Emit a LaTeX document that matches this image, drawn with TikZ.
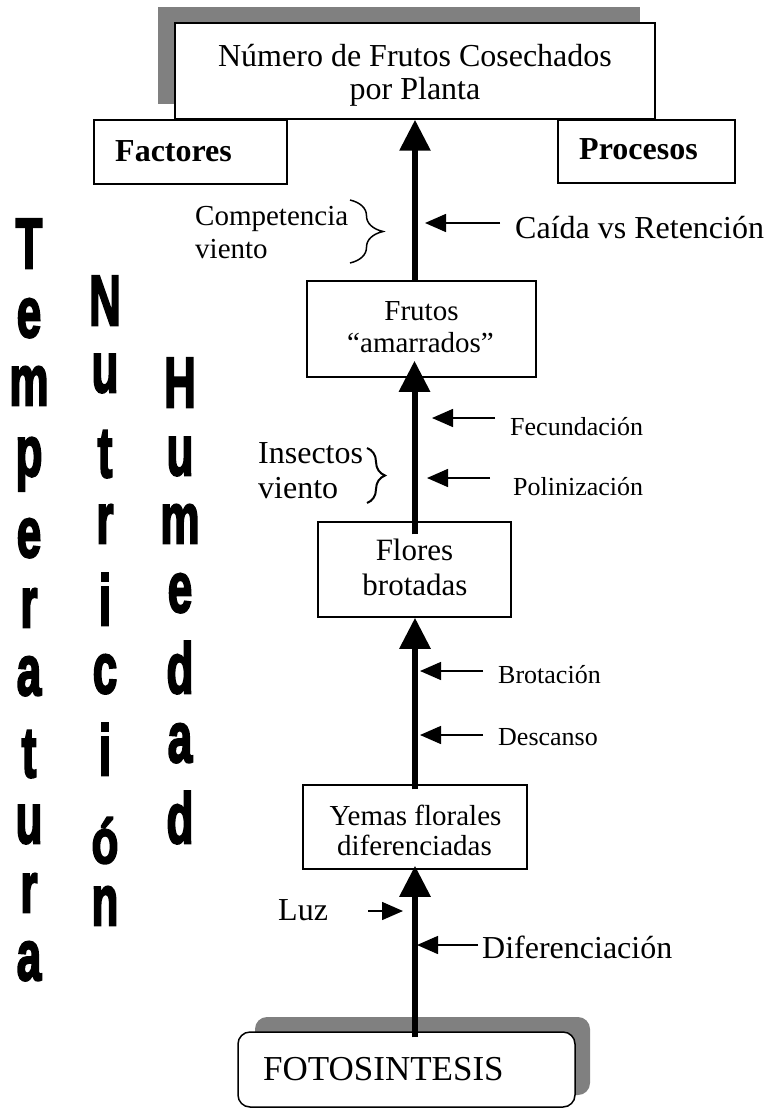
\documentclass[tikz,border=0pt]{standalone}
\usepackage{graphicx}
\usepackage{fontspec}
\setmainfont{Liberation Serif}
\newfontfamily\heavyfont[FakeBold=3.5]{Liberation Sans Bold}
\usetikzlibrary{arrows.meta,decorations.pathreplacing}
\definecolor{shadowgray}{RGB}{128,128,128}
\newcommand{\setfs}[1]{\fontsize{#1}{#1}\selectfont}
\newcommand{\vletter}[2][1.78]{\scalebox{1.1}[#1]{\heavyfont\fontsize{40}{40}\selectfont #2}}
\begin{document}
\begin{tikzpicture}[x=1pt,y=-1pt,
  box/.style={draw=black,line width=1.5pt,fill=white,rectangle,inner sep=0pt},
  lbl/.style={inner sep=0pt,anchor=base},
  lblw/.style={inner sep=0pt,anchor=base west},
  mainarrow/.style={line width=6pt,-{Triangle[length=31pt,width=30pt]}},
  sidearrow/.style={line width=1.5pt,-{Triangle[length=21pt,width=18pt]}},
  brc/.style={draw=black,line width=1.5pt,decorate},
  vl/.style={inner sep=0pt,anchor=base}]
\useasboundingbox (0,0) rectangle (767,1110);

% ---- top box with shadow
\fill[shadowgray] (158,7) rectangle (640,104);
\node[box,minimum width=480pt,minimum height=96pt] (numero) at (415,71) {};
\node[lbl,font=\setfs{32}] (numeroA) at (415,67) {Número de Frutos Cosechados};
\node[lbl,font=\setfs{32}] (numeroB) at (415,100) {por Planta};

\node[box,minimum width=193pt,minimum height=64pt] (factores) at (190.5,152) {};
\node[lblw,font=\setfs{32}\bfseries] (factoresT) at (115,162) {Factores};
\node[box,minimum width=177pt,minimum height=63pt] (procesos) at (646.5,151.5) {};
\node[lblw,font=\setfs{32}\bfseries] (procesosT) at (579,160) {Procesos};

% ---- middle boxes
\node[box,minimum width=229pt,minimum height=96pt] (frutos) at (421.5,329) {};
\node[lbl,font=\setfs{29}] (frutosA) at (421.5,320) {Frutos};
\node[lbl,font=\setfs{29}] (frutosB) at (420.5,352) {“amarrados”};

\node[box,minimum width=193pt,minimum height=95pt] (flores) at (414.5,569.5) {};
\node[lbl,font=\setfs{31}] (floresA) at (414.5,560) {Flores};
\node[lbl,font=\setfs{31}] (floresB) at (415,595) {brotadas};

\node[box,minimum width=224pt,minimum height=84pt] (yemas) at (415,827) {};
\node[lbl,font=\setfs{29}] (yemasA) at (415.5,825) {Yemas florales};
\node[lbl,font=\setfs{29}] (yemasB) at (414.5,855) {diferenciadas};

% ---- bottom rounded box with shadow
\fill[shadowgray,rounded corners=12pt] (255,1017) rectangle (590,1095);
\node[box,rounded corners=12pt,minimum width=337pt,minimum height=75pt] (fotos) at (406.5,1069.5) {};
\node[lblw,font=\setfs{35}] (fotosT) at (263,1080) {FOTOSINTESIS};

% ---- main arrows
\draw[mainarrow] (frutos.north -| numero.south) -- (numero.south);
\draw[mainarrow,shorten <=-13pt,shorten >=-17pt] (flores.north) -- (frutos.south -| flores.north);
\draw[mainarrow,shorten <=-5pt] (yemas.north) -- (flores.south -| yemas.north);
\draw[mainarrow,shorten <=-6pt,shorten >=-4pt] (fotos.north -| yemas.south) -- (yemas.south);

% ---- processes (right)
\node[lblw,font=\setfs{32}] (caida) at (515,238) {Caída vs Retención};
\coordinate (caidaE) at (425,223);
\draw[sidearrow,shorten <=15pt] (caida.west |- caidaE) -- (caidaE);

\node[lblw,font=\setfs{26}] (fecund) at (510,435) {Fecundación};
\coordinate (fecundE) at (432,418);
\draw[sidearrow,shorten <=15pt] (fecund.west |- fecundE) -- (fecundE);

\node[lblw,font=\setfs{26}] (polin) at (513,495) {Polinización};
\coordinate (polinE) at (427,478);
\draw[sidearrow,shorten <=23pt] (polin.west |- polinE) -- (polinE);

\node[lblw,font=\setfs{26}] (brot) at (498,683) {Brotación};
\coordinate (brotE) at (420,671);
\draw[sidearrow,shorten <=15pt] (brot.west |- brotE) -- (brotE);

\node[lblw,font=\setfs{26}] (desc) at (498,745) {Descanso};
\coordinate (descE) at (420,735);
\draw[sidearrow,shorten <=15pt] (desc.west |- descE) -- (descE);

\node[lblw,font=\setfs{32}] (difer) at (482,958) {Diferenciación};
\coordinate (diferE) at (417,945);
\draw[sidearrow,shorten <=4pt] (difer.west |- diferE) -- (diferE);

% ---- factors (left)
\node[lblw,font=\setfs{32}] (luz) at (278,920) {Luz};
\coordinate (luzE) at (403,911);
\draw[sidearrow,shorten <=40pt] (luz.east |- luzE) -- (luzE);

\node[lblw,font=\setfs{29}] (compA) at (195,225) {Competencia};
\node[lblw,font=\setfs{29}] (compB) at (195,258) {viento};
\draw[brc,decoration={brace,amplitude=33pt}] (350,200) -- (350,263);

\node[lblw,font=\setfs{32}] (insA) at (258,463) {Insectos};
\node[lblw,font=\setfs{32}] (insB) at (258,498) {viento};
\draw[brc,line width=2pt,decoration={brace,amplitude=18pt}] (367,448) -- (367,503);

% ---- vertical words
\node[vl] (t1) at (29,268) {\vletter{T}};
\node[vl] (t2) at (29,337) {\vletter{e}};
\node[vl] (t3) at (29,405) {\vletter{m}};
\node[vl] (t4) at (29,476) {\vletter{p}};
\node[vl] (t5) at (29,557) {\vletter{e}};
\node[vl] (t6) at (29,627) {\vletter{r}};
\node[vl] (t7) at (29,695) {\vletter{a}};
\node[vl] (t8) at (29,777) {\vletter{t}};
\node[vl] (t9) at (29,843) {\vletter{u}};
\node[vl] (t10) at (29,912) {\vletter{r}};
\node[vl] (t11) at (29,980) {\vletter{a}};

\node[vl] (n1) at (105,325) {\vletter{N}};
\node[vl] (n2) at (105,392) {\vletter{u}};
\node[vl] (n3) at (105,477) {\vletter{t}};
\node[vl] (n4) at (105,543) {\vletter{r}};
\node[vl] (n5) at (105,625) {\vletter{i}};
\node[vl] (n6) at (105,693) {\vletter{c}};
\node[vl] (n7) at (105,775) {\vletter{i}};
\node[vl] (n8) at (105,863) {\vletter[1.55]{ó}};
\node[vl] (n9) at (105,925) {\vletter{n}};

\node[vl] (h1) at (180,407) {\vletter{H}};
\node[vl] (h2) at (180,475) {\vletter{u}};
\node[vl] (h3) at (180,543) {\vletter{m}};
\node[vl] (h4) at (180,612) {\vletter{e}};
\node[vl] (h5) at (180,693) {\vletter{d}};
\node[vl] (h6) at (180,762) {\vletter{a}};
\node[vl] (h7) at (180,843) {\vletter{d}};
\end{tikzpicture}
\end{document}
